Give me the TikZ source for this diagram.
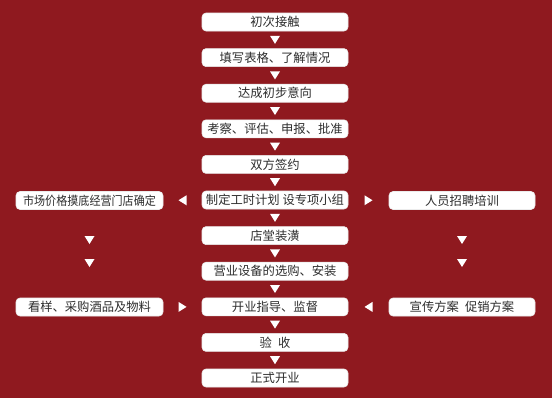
\documentclass[tikz,border=0pt]{standalone}
\usepackage{fontspec}
\setmainfont{Noto Sans CJK SC}
\definecolor{bgred}{RGB}{143,25,31}
\definecolor{txt}{RGB}{45,45,45}
\begin{document}
\begin{tikzpicture}[x=1pt,y=-1pt,
  box/.style={fill=white,draw=white!85!gray,line width=0.6pt,rounded corners=4pt,minimum width=146pt,minimum height=18pt,inner sep=0pt,text=txt,font=\fontsize{12.3}{13}\selectfont},
  tri/.style={fill=white,draw=none}]
\fill[white] (0,0) rectangle (552,400);
\fill[bgred] (0,0) rectangle (552,397.5);
\useasboundingbox (0,0) rectangle (552,400);
\foreach \i/\t [count=\k] in {0/初次接触,1/填写表格、了解情况,2/达成初步意向,3/考察、评估、申报、批准,4/双方签约,5/制定工时计划 设专项小组,6/店堂装潢,7/营业设备的选购、安装,8/开业指导、监督,9/验\hspace{0.5em}收,10/正式开业}
  \node[box] (c\k) at (275,{22+35.6*\i}) {\t};
\node[box,minimum width=147pt] (l1) at (89.5,200.5) {\scalebox{0.9}[1]{市场价格摸底经营门店确定}};
\node[box] (r1) at (462,200.5) {人员招聘培训};
\node[box,minimum width=147pt] (l2) at (89.5,307) {看样、采购酒品及物料};
\node[box] (r2) at (462,307) {宣传方案\hspace{0.5em}促销方案};
% down triangles between centre boxes
\foreach \a [evaluate=\a as \b using int(\a+1)] in {1,...,10}{
  \path (c\a.south) -- (c\b.north) coordinate[midway] (d\a);
  \fill[tri] ([shift={(-5,-4)}]d\a) -- ([shift={(5,-4)}]d\a) -- ([shift={(0,4)}]d\a) -- cycle;
}
% side triangles row 6
\path (l1.east) -- (c6.west) coordinate[pos=0.5] (s1);
\fill[tri] ([shift={(-4,0)}]s1) -- ([shift={(4,-5)}]s1) -- ([shift={(4,5)}]s1) -- cycle;
\path (c6.east) -- (r1.west) coordinate[pos=0.5] (s2);
\fill[tri] ([shift={(4,0)}]s2) -- ([shift={(-4,-5)}]s2) -- ([shift={(-4,5)}]s2) -- cycle;
% side triangles row 9
\path (l2.east) -- (c9.west) coordinate[pos=0.5] (s3);
\fill[tri] ([shift={(4,0)}]s3) -- ([shift={(-4,-5)}]s3) -- ([shift={(-4,5)}]s3) -- cycle;
\path (c9.east) -- (r2.west) coordinate[pos=0.5] (s4);
\fill[tri] ([shift={(-4,0)}]s4) -- ([shift={(4,-5)}]s4) -- ([shift={(4,5)}]s4) -- cycle;
% side column down triangles
\foreach \n/\y in {l/240,l/263,r/240,r/263}{
  \coordinate (\n\y) at (\n1.center |- 0,\y);
  \fill[tri] ([shift={(-5,-4)}]\n\y) -- ([shift={(5,-4)}]\n\y) -- ([shift={(0,4)}]\n\y) -- cycle;
}
\end{tikzpicture}
\end{document}
